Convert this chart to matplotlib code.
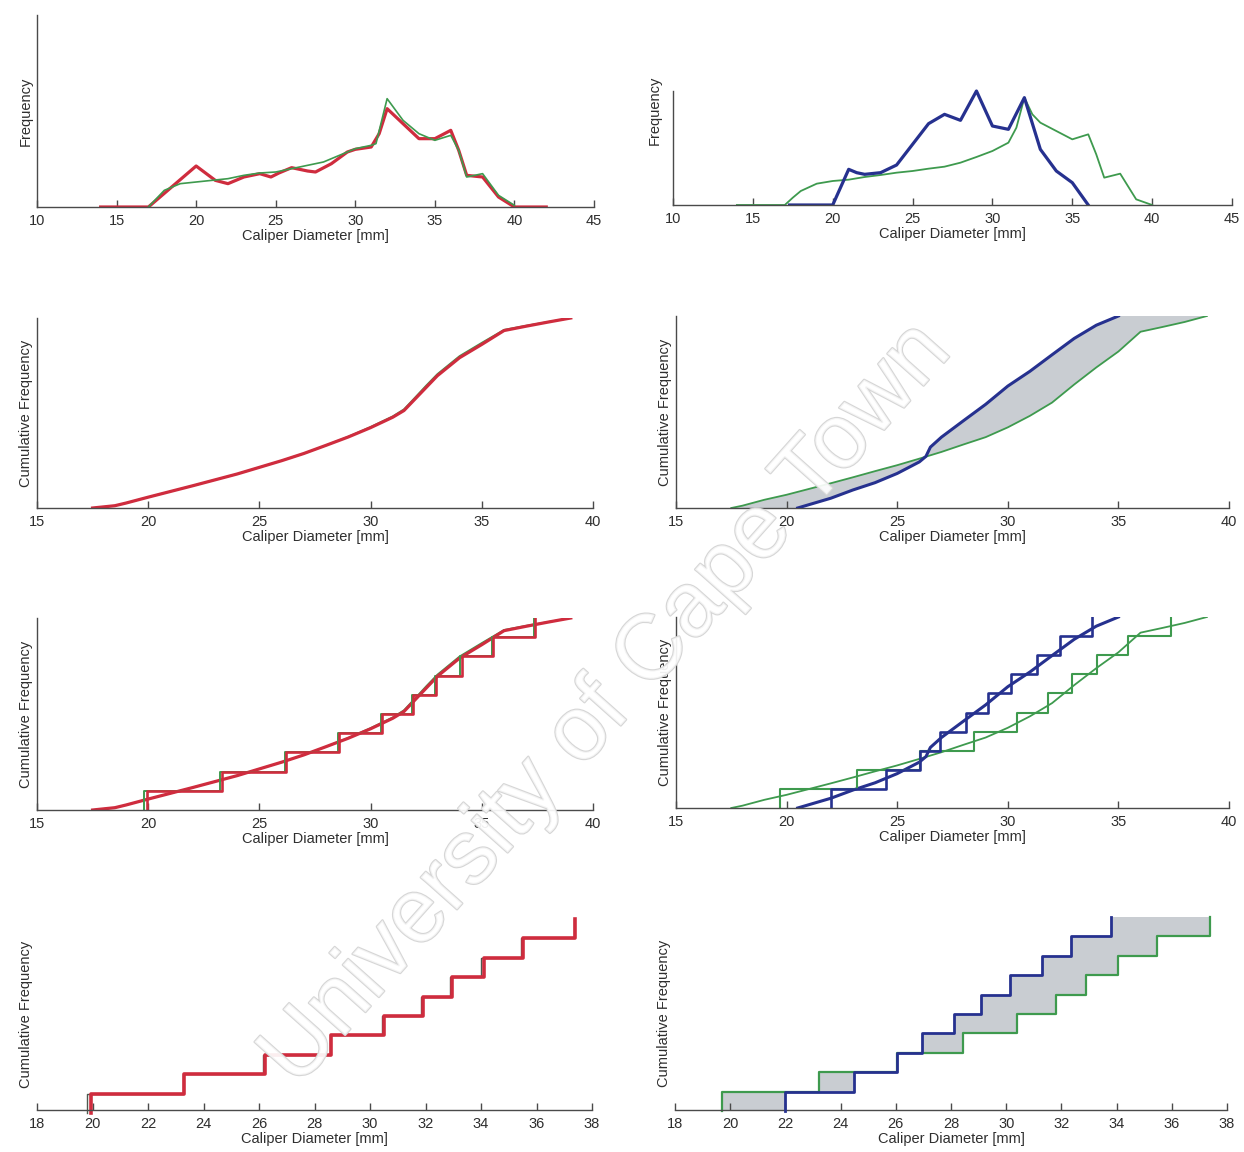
import numpy as np
import matplotlib
matplotlib.use('Agg')
import matplotlib.pyplot as plt
import matplotlib.patheffects as pe

plt.rcParams['font.family'] = ['Liberation Sans', 'DejaVu Sans']

# ---------------- data ----------------
# Panel A1: frequency (arbitrary units), red vs green
a1_red_x = [14, 17, 20, 21.2, 22, 23, 24, 24.7, 25.2, 26, 27, 27.5, 28.5, 29.5, 30, 31, 31.5, 32, 33, 34, 35, 36, 36.5, 37, 38, 39, 40, 42]
a1_red_y = [0, 0, 123, 80, 70, 90, 100, 90, 102, 118, 108, 105, 130, 165, 173, 180, 220, 295, 250, 205, 205, 230, 170, 95, 90, 30, 0, 0]
a1_grn_x = [17, 18, 19, 20, 21, 22, 23, 24, 25, 26, 27, 28, 29, 30, 31, 31.3, 32, 33, 34, 35, 36, 36.5, 37, 38, 39, 40]
a1_grn_y = [0, 50, 70, 75, 80, 85, 95, 102, 105, 115, 125, 135, 155, 175, 185, 190, 325, 260, 220, 200, 215, 170, 90, 100, 35, 5]

# Panel A2: frequency, blue vs green
a2_blu_x = [17.3, 20, 21, 21.5, 22, 23, 24, 25, 26, 27, 28, 29, 30, 31, 32, 33, 34, 35, 36]
a2_blu_y = [0, 0, 107, 97, 92, 97, 120, 182, 244, 272, 254, 342, 237, 227, 322, 167, 102, 67, 0]
a2_grn_x = [14, 17, 17.5, 18, 19, 20, 21, 22, 23, 24, 25, 26, 27, 28, 29, 30, 31, 31.5, 32, 32.5, 33, 34, 35, 36, 36.5, 37, 38, 39, 40]
a2_grn_y = [0, 0, 22, 42, 64, 72, 76, 84, 90, 97, 102, 109, 115, 127, 144, 162, 187, 232, 322, 272, 247, 222, 197, 212, 152, 82, 94, 17, 0]

# Cumulative curves (red / green, nearly identical)
cum_red_x = [17.5, 18.5, 19, 20, 21, 22, 23, 24, 25, 26, 27, 28, 29, 30, 31, 31.5, 32, 32.5, 33, 34, 35, 36, 37, 38, 39]
cum_red_y = [0, 0.012, 0.026, 0.057, 0.087, 0.117, 0.148, 0.179, 0.214, 0.249, 0.287, 0.330, 0.374, 0.423, 0.478, 0.513,
             0.574, 0.635, 0.696, 0.791, 0.861, 0.934, 0.957, 0.979, 1.0]
cum_rg_y = [0, 0.012, 0.026, 0.057, 0.087, 0.117, 0.148, 0.179, 0.214, 0.249, 0.287, 0.330, 0.376, 0.427, 0.483, 0.520,
            0.582, 0.645, 0.705, 0.800, 0.870, 0.938, 0.960, 0.980, 1.0]

# Cumulative curves (blue / green)
cum_blu_x = [20.5, 21, 22, 23, 24, 25, 26, 26.3, 26.5, 27, 28, 29, 30, 31, 32, 33, 34, 35]
cum_blu_y = [0, 0.017, 0.051, 0.094, 0.132, 0.180, 0.240, 0.269, 0.317, 0.369, 0.455, 0.540, 0.635, 0.712, 0.798, 0.883,
             0.952, 1.0]
cum_grn_x = [17.5, 18, 19, 20, 21, 22, 23, 24, 25, 26, 27, 28, 29, 30, 31, 32, 33, 34, 35, 36, 37, 38, 39]
cum_grn_y = [0, 0.012, 0.043, 0.069, 0.099, 0.129, 0.160, 0.192, 0.223, 0.257, 0.292, 0.331, 0.369, 0.420, 0.480, 0.549,
             0.643, 0.732, 0.815, 0.918, 0.943, 0.969, 1.0]

# Decile edges of step functions
q_red = [19.95, 23.3, 26.2, 28.6, 30.5, 31.9, 32.95, 34.1, 35.5, 37.4]
q_red_ref = [19.8, 23.25, 26.15, 28.55, 30.45, 31.85, 32.9, 34.0, 35.45, 37.35]
q_blu = [22.0, 24.5, 26.05, 26.95, 28.1, 29.1, 30.15, 31.3, 32.35, 33.8]
q_grn = [19.7, 23.2, 26.05, 28.45, 30.4, 31.8, 32.9, 34.05, 35.45, 37.4]

ticks_a = [10, 15, 20, 25, 30, 35, 40, 45]
ticks_bc = [15, 20, 25, 30, 35, 40]
ticks_d = [18, 20, 22, 24, 26, 28, 30, 32, 34, 36, 38]

XLABEL = 'Caliper Diameter [mm]'
YL_F = 'Frequency'
YL_C = 'Cumulative Frequency'

# ---------------- drawing ----------------
W, H = 1244, 1152
fig = plt.figure(figsize=(W / 100, H / 100), dpi=100)

RED = '#cf2c3e'
GREEN = '#3e9a4e'
BLUE = '#26318f'
FILL = '#c9cdd2'
TXT = '#2e2e2e'
AX = '#4a4a4a'


def add_ax(l, r, b, t):
    return fig.add_axes([l / W, 1 - b / H, (r - l) / W, (b - t) / H])


def style(ax, xlim, xticks, ylabel, ylim, left=True):
    ax.set_xlim(*xlim)
    ax.set_ylim(*ylim)
    ax.set_xticks(xticks)
    ax.set_xticklabels([str(t) for t in xticks])
    ax.set_yticks([])
    for s in ['top', 'right']:
        ax.spines[s].set_visible(False)
    ax.spines['left'].set_visible(left)
    for s in ['bottom', 'left']:
        ax.spines[s].set_color(AX)
        ax.spines[s].set_linewidth(1.0)
    ax.tick_params(axis='x', direction='in', length=5, width=1, colors=AX,
                   labelcolor=TXT, labelsize=10.5, pad=5)
    ax.set_xlabel(XLABEL, fontsize=10.5, color=TXT, labelpad=1)
    ax.set_ylabel(ylabel, fontsize=10.5, color=TXT, labelpad=3)
    ax.patch.set_alpha(0)


def step_path(edges):
    e = np.asarray(edges, dtype=float)
    lv = np.arange(len(e) + 1) / len(e)
    return np.repeat(e, 2), np.repeat(lv, 2)[1:-1]


# A1
ax = add_ax(37, 594, 207, 15)
style(ax, (10, 45), ticks_a, YL_F, (0, 576))
ax.plot(a1_red_x, a1_red_y, color=RED, lw=2.3, solid_joinstyle='round')
ax.plot(a1_grn_x, a1_grn_y, color=GREEN, lw=1.2)

# A2
ax = add_ax(673, 1232, 205, 15)
style(ax, (10, 45), ticks_a, YL_F, (0, 570))
ax.spines['left'].set_bounds(0, max(a2_blu_y))
ax.plot(a2_grn_x, a2_grn_y, color=GREEN, lw=1.3)
ax.plot(a2_blu_x, a2_blu_y, color=BLUE, lw=2.3, solid_joinstyle='round')
ax.yaxis.set_label_coords(-0.02, 0.5)

# B1
ax = add_ax(37, 593, 508, 318)
style(ax, (15, 40), ticks_bc, YL_C, (0, 1.0))
ax.plot(cum_red_x, cum_rg_y, color=GREEN, lw=1.2)
ax.plot(cum_red_x, cum_red_y, color=RED, lw=2.3)

# B2
ax = add_ax(676, 1229, 508, 316)
style(ax, (15, 40), ticks_bc, YL_C, (0, 1.0))
px = list(cum_blu_x) + [cum_grn_x[-1]] + list(cum_grn_x[::-1])
py = list(cum_blu_y) + [1.0] + list(cum_grn_y[::-1])
ax.fill(px, py, color=FILL, lw=0, zorder=1)
ax.plot(cum_grn_x, cum_grn_y, color=GREEN, lw=1.3, zorder=2)
ax.plot(cum_blu_x, cum_blu_y, color=BLUE, lw=2.2, zorder=3)

# C1
ax = add_ax(37, 593, 810, 618)
style(ax, (15, 40), ticks_bc, YL_C, (0, 1.0))
ax.plot(cum_red_x, cum_rg_y, color=GREEN, lw=1.2)
ax.plot(cum_red_x, cum_red_y, color=RED, lw=2.3)
sx, sy = step_path(q_red_ref)
ax.plot(sx, sy, color=GREEN, lw=1.4)
sx, sy = step_path(q_red)
ax.plot(sx, sy, color=RED, lw=1.9)

# C2
ax = add_ax(676, 1229, 808, 617)
style(ax, (15, 40), ticks_bc, YL_C, (0, 1.0))
ax.plot(cum_grn_x, cum_grn_y, color=GREEN, lw=1.3)
ax.plot(cum_blu_x, cum_blu_y, color=BLUE, lw=2.2)
sx, sy = step_path(q_grn)
ax.plot(sx, sy, color=GREEN, lw=1.5)
sx, sy = step_path(q_blu)
ax.plot(sx, sy, color=BLUE, lw=1.9)

# D1
ax = add_ax(37, 592, 1110, 919)
style(ax, (18, 38), ticks_d, YL_C, (0.015, 1.0), left=False)
sx, sy = step_path(q_red_ref)
ax.plot(sx, sy, color='#4d5a4f', lw=1.0, clip_on=False)
sx, sy = step_path(q_red)
ax.plot(sx, sy, color=RED, lw=2.6, clip_on=False)

# D2
ax = add_ax(675, 1227, 1110, 917)
style(ax, (18, 38), ticks_d, YL_C, (0.005, 1.0), left=False)
bx, by = step_path(q_blu)
gx, gy = step_path(q_grn)
px = list(bx) + [q_grn[-1]] + list(gx[::-1])
py = list(by) + [1.0] + list(gy[::-1])
ax.fill(px, py, color=FILL, lw=0, zorder=1, clip_on=False)
ax.plot(gx, gy, color=GREEN, lw=1.6, zorder=2, clip_on=False)
ax.plot(bx, by, color=BLUE, lw=2.0, zorder=3, clip_on=False)

# watermark
fig.text(607 / W, 1 - 705 / H, 'University of Cape Town', fontsize=66, rotation=48.3,
         ha='center', va='center', color=(1, 1, 1, 0.72), zorder=10,
         rotation_mode='anchor',
         path_effects=[pe.withStroke(linewidth=1.6, foreground='#d6d6d6')])

fig.savefig('out.png', dpi=100, facecolor='white')
